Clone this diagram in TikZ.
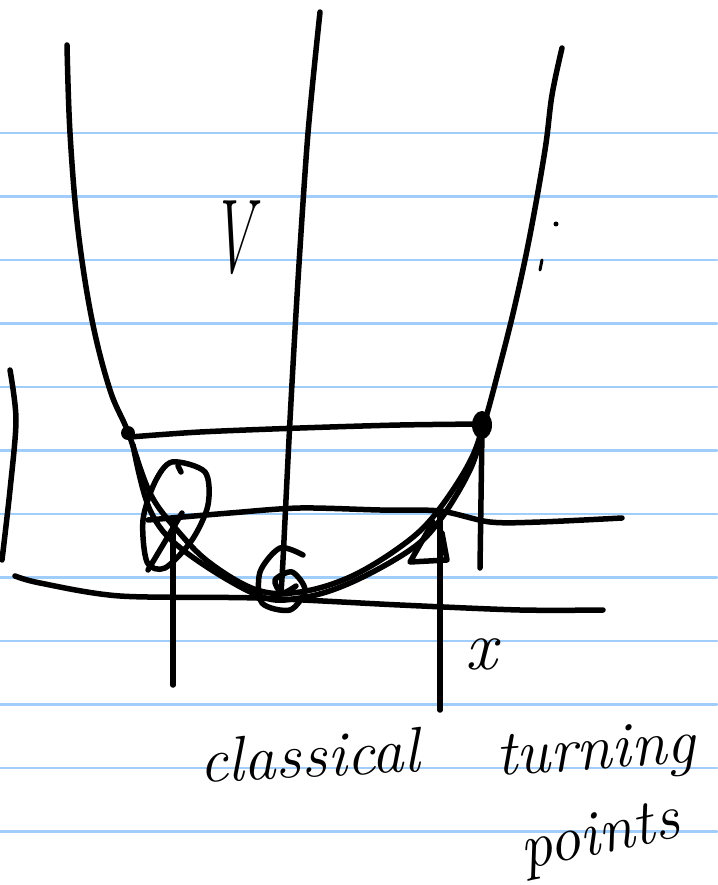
\documentclass[tikz,border=0pt]{standalone}
\usepackage{fontspec}
\definecolor{ruleblue}{RGB}{160,205,250}

\begin{document}
\begin{tikzpicture}[x=1pt,y=-1pt,line cap=round,line join=round,
  pen/.style={line width=5.5pt},
  rule/.style={ruleblue,line width=2.5pt},
  hand/.style={font=\fontsize{64}{64}\selectfont\itshape,inner sep=0pt}]
\useasboundingbox (0,0) rectangle (717,885);
\fill[white] (0,0) rectangle (717,885);
\foreach \k in {0,...,11} \draw[rule] (0,{133+63.5*\k}) -- (717,{133+63.5*\k});
% well and levels
\draw[pen] plot[smooth,tension=0.6] coordinates {(67,45) (70,133) (78,230) (92,320) (110,390) (128,432) (150,493) (177,530) (210,563) (257,590) (300,592) (350,577) (400,547) (433,517) (467,467) (483,427) (500,365) (515,305) (530,235) (545,150) (552,95) (562,48)};
\draw[pen] plot[smooth,tension=0.6] coordinates {(133,445) (150,510) (183,550) (257,595) (300,598) (350,583) (410,550) (440,520) (470,470) (483,430)};
\draw[pen] plot[smooth] coordinates {(130,437) (200,432) (300,428) (400,425) (483,424)};
\fill (128,433) circle (7);
\fill (482,425) ellipse (10 and 14);
\draw[pen] plot[smooth] coordinates {(148,520) (230,513) (300,508) (380,510) (440,511) (490,522) (540,522) (622,518)};
\draw[pen] plot[smooth] coordinates {(15,576) (40,583) (120,596) (257,598) (400,605) (520,610) (603,610)};
\draw[pen] plot[smooth] coordinates {(320,12) (308,133) (298,280) (290,420) (283,560) (281,592)};
\draw[pen] (173,522) -- (173,685);
\draw[pen] (440,515) -- (440,710);
\draw[pen] (482,430) -- (480,568);
\draw[pen] (433,522) -- (410,562) -- (447,560) -- (442,533);
% marked points
\draw[pen] plot[smooth cycle] coordinates {(172,462) (205,472) (208,505) (192,540) (165,568) (147,562) (143,520) (155,482)};
\draw[pen] (178,466) -- (181,472);
\draw[pen] (148,570) -- (182,513);
\draw[pen] plot[smooth] coordinates {(303,555) (280,548) (260,572) (262,603) (290,610) (305,590) (292,572) (275,580) (282,593) (296,586)};
\draw[pen] plot[smooth] coordinates {(10,370) (16,420) (10,490) (2,560)};
\fill (556,224) circle (2.5);
\draw[line width=3pt] (542,260) -- (540,270);
% labels
\node[font=\fontsize{105}{105}\selectfont\itshape,xscale=0.55] (vlabel) at (232,238) {V};
\node[font=\fontsize{70}{70}\selectfont\itshape] (xlabel) at (481,654) {x};
\node[hand,anchor=base west,rotate=3] (classical) at (200,783) {classical};
\node[hand,anchor=base west,rotate=4] (turning) at (497,776) {turning};
\node[hand,anchor=base west,rotate=12] (points) at (524,870) {points};
\end{tikzpicture}
\end{document}
